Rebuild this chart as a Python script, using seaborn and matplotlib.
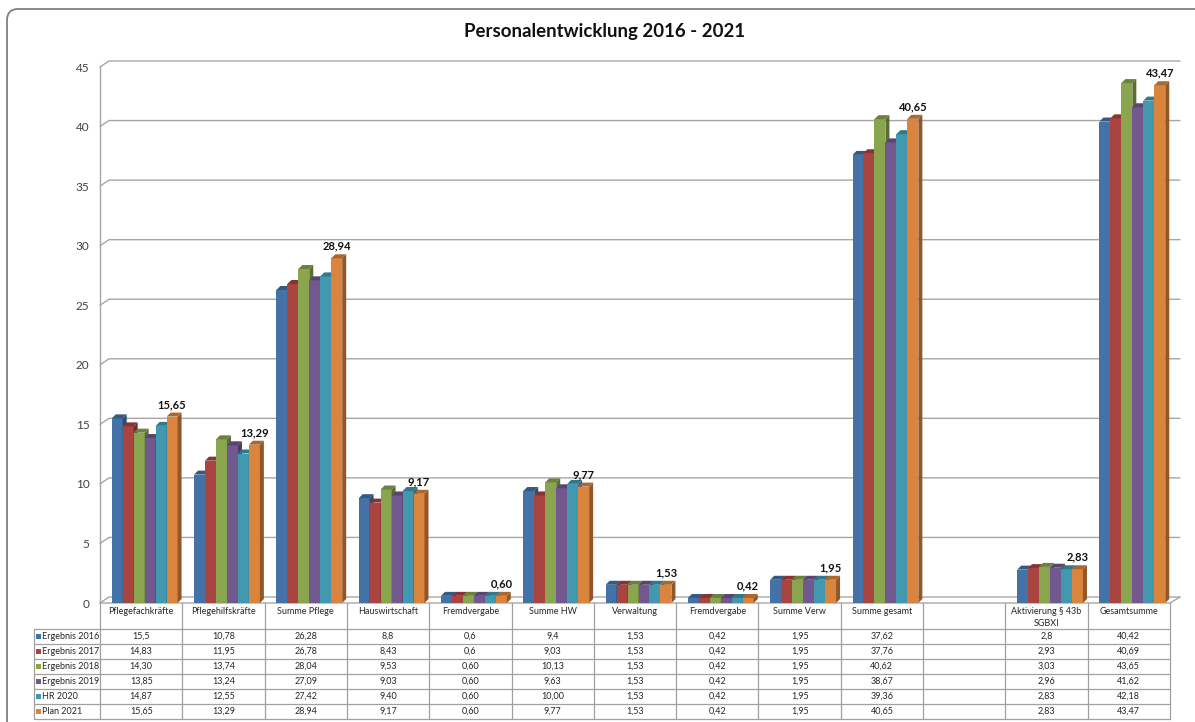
import numpy as np
import pandas as pd
import seaborn as sns
import matplotlib.pyplot as plt
from matplotlib.patches import Polygon, Rectangle, FancyBboxPatch
from matplotlib.transforms import IdentityTransform
import matplotlib.colors as mcolors

# ---- data -------------------------------------------------------------
title = "Personalentwicklung 2016 - 2021"

categories = ["Pflegefachkräfte", "Pflegehilfskräfte", "Summe Pflege", "Hauswirtschaft",
              "Fremdvergabe", "Summe HW", "Verwaltung", "Fremdvergabe", "Summe Verw",
              "Summe gesamt", "", "Aktivierung § 43b\nSGBXI", "Gesamtsumme"]

series_names = ["Ergebnis 2016", "Ergebnis 2017", "Ergebnis 2018",
                "Ergebnis 2019", "HR 2020", "Plan 2021"]

ergebnis_2016 = ["15,5", "10,78", "26,28", "8,8", "0,6", "9,4", "1,53", "0,42", "1,95", "37,62", "", "2,8", "40,42"]
ergebnis_2017 = ["14,83", "11,95", "26,78", "8,43", "0,6", "9,03", "1,53", "0,42", "1,95", "37,76", "", "2,93", "40,69"]
ergebnis_2018 = ["14,30", "13,74", "28,04", "9,53", "0,60", "10,13", "1,53", "0,42", "1,95", "40,62", "", "3,03", "43,65"]
ergebnis_2019 = ["13,85", "13,24", "27,09", "9,03", "0,60", "9,63", "1,53", "0,42", "1,95", "38,67", "", "2,96", "41,62"]
hr_2020 = ["14,87", "12,55", "27,42", "9,40", "0,60", "10,00", "1,53", "0,42", "1,95", "39,36", "", "2,83", "42,18"]
plan_2021 = ["15,65", "13,29", "28,94", "9,17", "0,60", "9,77", "1,53", "0,42", "1,95", "40,65", "", "2,83", "43,47"]

series_values = [ergebnis_2016, ergebnis_2017, ergebnis_2018, ergebnis_2019, hr_2020, plan_2021]

y_ticks = [0, 5, 10, 15, 20, 25, 30, 35, 40, 45]

colors = ["#4472A7", "#AA4441", "#89A54E", "#71588F", "#4198AF", "#DB843D"]


def to_float(s):
    return float(s.replace(",", "."))


rows = []
for name, vals in zip(series_names, series_values):
    for i, s in enumerate(vals):
        if s:
            rows.append({"pos": i, "serie": name, "wert": to_float(s)})
df = pd.DataFrame(rows)

# ---- figure -----------------------------------------------------------
W, H, DPI = 1195, 722, 100
sns.set_theme(style="white")
plt.rcParams["font.family"] = ["Lato", "DejaVu Sans"]

fig = plt.figure(figsize=(W / DPI, H / DPI), dpi=DPI)
fig.patch.set_facecolor("white")

# full-figure pixel canvas for frame, walls and the data table
frame = fig.add_axes([0, 0, 1, 1])
frame.set_xlim(0, W)
frame.set_ylim(H, 0)
frame.axis("off")
frame.set_zorder(0)

# front plane of the column chart
X_LEFT, X_RIGHT = 100, 1170
Y_ZERO, Y_TOP = 603, 67
SHIFT = 3.5
ax = fig.add_axes([(X_LEFT + SHIFT) / W, 1 - Y_ZERO / H,
                   (X_RIGHT - X_LEFT) / W, (Y_ZERO - Y_TOP) / H])
ax.set_zorder(1)
ax.patch.set_alpha(0)

sns.barplot(data=df, x="pos", y="wert", hue="serie",
            order=list(range(len(categories))), hue_order=series_names,
            palette=colors, width=0.8, saturation=1, errorbar=None,
            legend=False, linewidth=0, ax=ax)

ax.set_xlim(-0.5, len(categories) - 0.5)
ax.set_ylim(0, 45)
ax.set_yticks(y_ticks)
ax.set_yticklabels([str(t) for t in y_ticks])
ax.set_xticks([])
ax.set_xlabel("")
ax.set_ylabel("")
ax.tick_params(axis="y", length=0, pad=10, labelsize=8.5, labelcolor="#404040")
for sp in ax.spines.values():
    sp.set_visible(False)

# wall grid lines (back wall shifted up/right for the depth effect)
DEPTH_X, DEPTH_Y = 9, 6
grid_c = "#A6A6A6"


def to_frame(x, y):
    dx, dy = ax.transData.transform((x, y))
    return dx, H - dy


for v in y_ticks:
    _, yf = to_frame(0, v)
    frame.plot([X_LEFT, X_LEFT + DEPTH_X, X_RIGHT + DEPTH_X + 1],
               [yf, yf - DEPTH_Y, yf - DEPTH_Y], color=grid_c, lw=1.0)

# left axis and floor
_, y45 = to_frame(0, 45)
_, y0 = to_frame(0, 0)
frame.plot([X_LEFT, X_LEFT], [y45, y0], color=grid_c, lw=1.0)
frame.plot([X_LEFT, X_RIGHT, X_RIGHT + DEPTH_X + 1], [y0, y0, y0 - DEPTH_Y],
           color=grid_c, lw=1.0)

# pseudo-3D faces on every column
BX, BY = 4, 4
for j, cont in enumerate(ax.containers):
    base = np.array(mcolors.to_rgb(colors[j]))
    side_c = base * 0.66
    top_c = base * 0.78
    for bar in cont:
        x0 = bar.get_x()
        x1 = x0 + bar.get_width()
        h = bar.get_height()
        if not np.isfinite(h):
            continue
        (ax0, ay0) = ax.transData.transform((x0, 0))
        (ax1, ay1) = ax.transData.transform((x1, h))
        bar.set_zorder(3 + 3 * j)
        side = Polygon([(ax1, ay0), (ax1, ay1), (ax1 + BX, ay1 + BY), (ax1 + BX, ay0 + BY)],
                       closed=True, facecolor=side_c, edgecolor="none",
                       transform=IdentityTransform(), zorder=4 + 3 * j, clip_on=False)
        top = Polygon([(ax0, ay1), (ax1, ay1), (ax1 + BX, ay1 + BY), (ax0 + BX, ay1 + BY)],
                      closed=True, facecolor=top_c, edgecolor="none",
                      transform=IdentityTransform(), zorder=5 + 3 * j, clip_on=False)
        ax.add_patch(side)
        ax.add_patch(top)

# value labels on the plan series
for bar in ax.containers[-1]:
    h = bar.get_height()
    idx = int(round(bar.get_x() + bar.get_width() / 2))
    ax.annotate(plan_2021[idx], (bar.get_x() + bar.get_width() / 2, h),
                xytext=(0, 12), textcoords="offset pixels",
                ha="center", va="center", fontsize=8, fontweight="bold",
                color="#111111", zorder=30, annotation_clip=False)

# ---- data table -------------------------------------------------------
line_c = "#A0A0A0"
n = len(categories)
col_w = (X_RIGHT - X_LEFT) / n
T_TOP, T_HEAD, ROW_H = 603, 629, 15
LABEL_L = 34
t_bottom = T_HEAD + ROW_H * len(series_names)

for k in range(n + 1):
    xk = X_LEFT + k * col_w
    frame.plot([xk, xk], [T_TOP, t_bottom], color=line_c, lw=0.9)
frame.plot([LABEL_L, LABEL_L], [T_HEAD, t_bottom], color=line_c, lw=0.9)
for r in range(len(series_names) + 1):
    yr = T_HEAD + r * ROW_H
    frame.plot([LABEL_L, X_RIGHT], [yr, yr], color=line_c, lw=0.9)

tab_fs = 6.5
for k, cat in enumerate(categories):
    xc = X_LEFT + (k + 0.5) * col_w
    frame.text(xc, 607, cat, ha="center", va="top", fontsize=tab_fs,
               color="#262626", linespacing=1.4)

for r, (name, vals) in enumerate(zip(series_names, series_values)):
    yc = T_HEAD + (r + 0.5) * ROW_H
    frame.add_patch(Rectangle((36.5, yc - 2.5), 5, 5, facecolor=colors[r], edgecolor="none"))
    frame.text(42.5, yc, name, ha="left", va="center", fontsize=tab_fs, color="#262626")
    for k, s in enumerate(vals):
        xc = X_LEFT + (k + 0.5) * col_w
        frame.text(xc, yc, s, ha="center", va="center", fontsize=tab_fs, color="#262626")

# ---- title and outer frame ---------------------------------------------
frame.text(605, 31, title, ha="center", va="center", fontsize=13.4,
           fontweight="bold", color="#111111")

border = FancyBboxPatch((7, 9), 1200, 760, boxstyle="round,pad=0,rounding_size=11",
                        facecolor="none", edgecolor="#7F7F7F", lw=1.3)
frame.add_patch(border)

fig.savefig("out.png", dpi=DPI)
